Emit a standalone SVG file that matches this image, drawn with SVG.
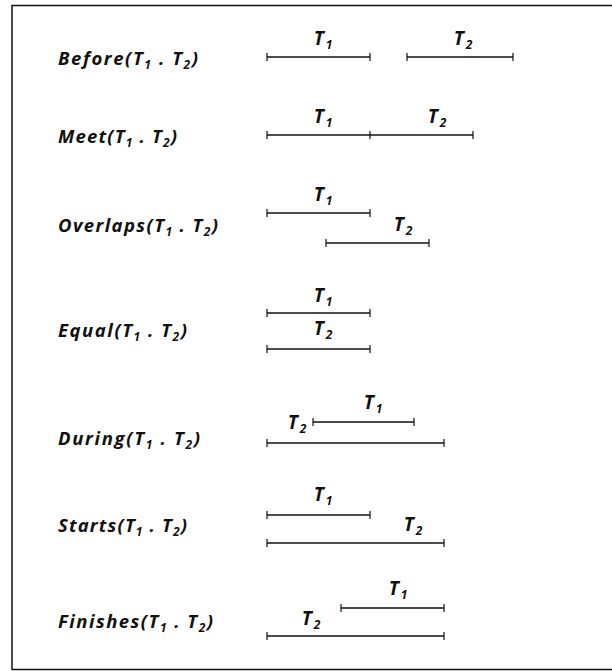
<svg xmlns="http://www.w3.org/2000/svg" width="612" height="671" viewBox="0 0 612 671">
  <style>
    .name { font-family: "Open Sans", "DejaVu Sans", sans-serif; font-style: italic; font-weight: 700; font-size: 18.5px; fill: #111; }
    .tl { font-family: "Open Sans", "DejaVu Sans", sans-serif; font-style: italic; font-weight: 700; font-size: 19px; fill: #111; text-anchor: middle; }
    .sub { font-size: 12px; }
    .bar { stroke: #111; stroke-width: 1.7; fill: none; }
    .tick { stroke: #111; stroke-width: 1.2; fill: none; }
    .frame { stroke: #111; stroke-width: 1.5; fill: none; }
  </style>
  <rect width="612" height="671" fill="#fff"/>
  <!-- frame: top, left, bottom -->
  <path class="frame" d="M12,670 V5.5 H612 M12,669.5 H612"/>

  <!-- relation names -->
  <g id="before">
    <text class="name" x="58" y="65" textLength="140" lengthAdjust="spacing">Before(T<tspan class="sub" dy="4">1</tspan><tspan dy="-4"> . T</tspan><tspan class="sub" dy="4">2</tspan><tspan dy="-4">)</tspan></text>
  </g>
  <g id="meet">
    <text class="name" x="58" y="143" textLength="119" lengthAdjust="spacing">Meet(T<tspan class="sub" dy="4">1</tspan><tspan dy="-4"> . T</tspan><tspan class="sub" dy="4">2</tspan><tspan dy="-4">)</tspan></text>
  </g>
  <g id="overlaps">
    <text class="name" x="58" y="232" textLength="160" lengthAdjust="spacing">Overlaps(T<tspan class="sub" dy="4">1</tspan><tspan dy="-4"> . T</tspan><tspan class="sub" dy="4">2</tspan><tspan dy="-4">)</tspan></text>
  </g>
  <g id="equal">
    <text class="name" x="58" y="337" textLength="129" lengthAdjust="spacing">Equal(T<tspan class="sub" dy="4">1</tspan><tspan dy="-4"> . T</tspan><tspan class="sub" dy="4">2</tspan><tspan dy="-4">)</tspan></text>
  </g>
  <g id="during">
    <text class="name" x="58" y="445" textLength="142" lengthAdjust="spacing">During(T<tspan class="sub" dy="4">1</tspan><tspan dy="-4"> . T</tspan><tspan class="sub" dy="4">2</tspan><tspan dy="-4">)</tspan></text>
  </g>
  <g id="starts">
    <text class="name" x="58" y="532" textLength="129" lengthAdjust="spacing">Starts(T<tspan class="sub" dy="4">1</tspan><tspan dy="-4"> . T</tspan><tspan class="sub" dy="4">2</tspan><tspan dy="-4">)</tspan></text>
  </g>
  <g id="finishes">
    <text class="name" x="58" y="628" textLength="155" lengthAdjust="spacing">Finishes(T<tspan class="sub" dy="4">1</tspan><tspan dy="-4"> . T</tspan><tspan class="sub" dy="4">2</tspan><tspan dy="-4">)</tspan></text>
  </g>

  <!-- interval bars with end ticks -->
  <g id="intervals">
    <path class="bar" d="M267,57 H370 M407,57 H513"/>
    <path class="tick" d="M267,53 v8 M370,53 v8 M407,53 v8 M513,53 v8"/>

    <path class="bar" d="M267,135 H473"/>
    <path class="tick" d="M267,131 v8 M370,131 v8 M473,131 v8"/>

    <path class="bar" d="M267,213 H370 M326,243 H429"/>
    <path class="tick" d="M267,209 v8 M370,209 v8 M326,239 v8 M429,239 v8"/>

    <path class="bar" d="M267,313 H370 M267,349 H370"/>
    <path class="tick" d="M267,309 v8 M370,309 v8 M267,345 v8 M370,345 v8"/>

    <path class="bar" d="M313,422 H414 M267,443 H444"/>
    <path class="tick" d="M313,418 v8 M414,418 v8 M267,439 v8 M444,439 v8"/>

    <path class="bar" d="M267,515 H370 M267,543 H444"/>
    <path class="tick" d="M267,511 v8 M370,511 v8 M267,539 v8 M444,539 v8"/>

    <path class="bar" d="M341,608 H444 M267,636 H444"/>
    <path class="tick" d="M341,604 v8 M444,604 v8 M267,632 v8 M444,632 v8"/>
  </g>

  <!-- interval labels -->
  <g id="labels">
    <text class="tl" x="323" y="45">T<tspan class="sub" dx="2" dy="4">1</tspan></text>
    <text class="tl" x="463" y="45">T<tspan class="sub" dx="2" dy="4">2</tspan></text>
    <text class="tl" x="323" y="123">T<tspan class="sub" dx="2" dy="4">1</tspan></text>
    <text class="tl" x="437" y="123">T<tspan class="sub" dx="2" dy="4">2</tspan></text>
    <text class="tl" x="323" y="201">T<tspan class="sub" dx="2" dy="4">1</tspan></text>
    <text class="tl" x="403" y="231">T<tspan class="sub" dx="2" dy="4">2</tspan></text>
    <text class="tl" x="323" y="302">T<tspan class="sub" dx="2" dy="4">1</tspan></text>
    <text class="tl" x="323" y="335">T<tspan class="sub" dx="2" dy="4">2</tspan></text>
    <text class="tl" x="373" y="409">T<tspan class="sub" dx="2" dy="4">1</tspan></text>
    <text class="tl" x="297" y="429">T<tspan class="sub" dx="2" dy="4">2</tspan></text>
    <text class="tl" x="323" y="501">T<tspan class="sub" dx="2" dy="4">1</tspan></text>
    <text class="tl" x="413" y="531">T<tspan class="sub" dx="2" dy="4">2</tspan></text>
    <text class="tl" x="398" y="595">T<tspan class="sub" dx="2" dy="4">1</tspan></text>
    <text class="tl" x="311" y="625">T<tspan class="sub" dx="2" dy="4">2</tspan></text>
  </g>
</svg>
